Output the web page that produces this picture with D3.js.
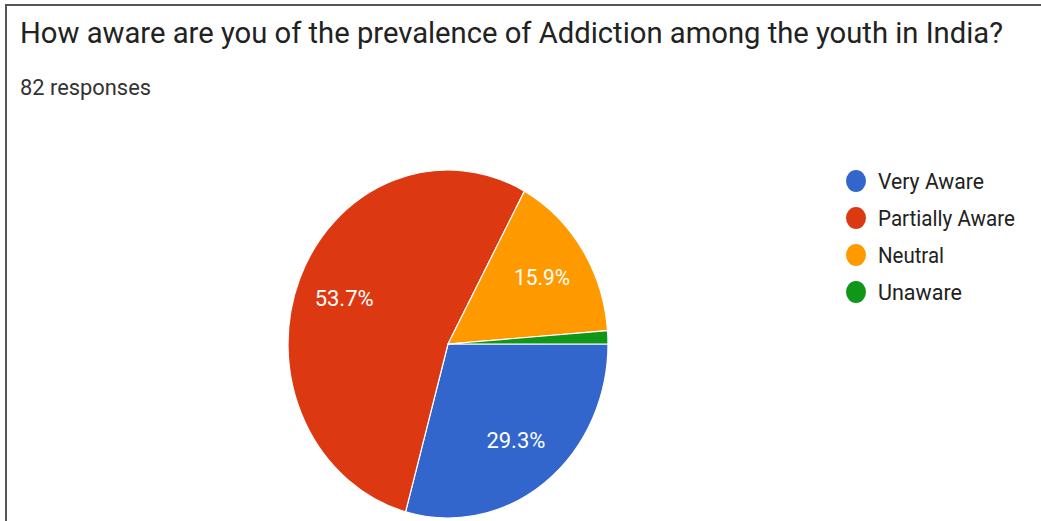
<!DOCTYPE html>
<html>
<head>
<meta charset="utf-8">
<script src="https://cdn.jsdelivr.net/npm/d3@7"></script>
<style>
  html, body { margin: 0; padding: 0; background: #fff; }
  svg { display: block; font-family: Roboto, "Noto Sans", Arial, sans-serif; }
</style>
</head>
<body>
<svg id="chart" width="1041" height="521"></svg>
<script>
const title = "How aware are you of the prevalence of Addiction among the youth in India?";
const subtitle = "82 responses";
const categories = ["Very Aware", "Partially Aware", "Neutral", "Unaware"];
const counts = [24, 44, 13, 1];
const percentLabels = ["29.3%", "53.7%", "15.9%", ""];
const colors = ["#3366cc", "#dc3912", "#ff9900", "#109618"];

const svg = d3.select("#chart");
const W = 1041, H = 521;
const sy = 1.0875; // vertical stretch seen in the reference

svg.append("rect").attr("x", 0).attr("y", 0).attr("width", W).attr("height", H).attr("fill", "#fff");

// frame (top and left edges visible)
svg.append("path")
  .attr("d", `M6,${H} L6,5 L${W},5`)
  .attr("fill", "none").attr("stroke", "#555").attr("stroke-width", 2);

svg.append("text")
  .attr("transform", `translate(20,43) scale(1,${sy})`)
  .attr("font-size", 27).attr("fill", "#222")
  .attr("textLength", 983).attr("lengthAdjust", "spacingAndGlyphs")
  .text(title);

svg.append("text")
  .attr("transform", `translate(20,95) scale(1,${sy})`)
  .attr("font-size", 19.5).attr("fill", "#333")
  .attr("textLength", 131).attr("lengthAdjust", "spacingAndGlyphs")
  .text(subtitle);

// pie
const cx = 448, cy = 344, R = 160;
const pie = d3.pie().sort(null).value(d => d.v)
  .startAngle(Math.PI / 2).endAngle(Math.PI / 2 + 2 * Math.PI);
const data = categories.map((c, i) => ({ c, v: counts[i], color: colors[i], label: percentLabels[i] }));
const arcs = pie(data);
const arc = d3.arc().innerRadius(0).outerRadius(R);
const labelArc = d3.arc().innerRadius(112).outerRadius(112);

const g = svg.append("g").attr("transform", `translate(${cx},${cy}) scale(1,${sy})`);
g.selectAll("path").data(arcs).join("path")
  .attr("d", arc)
  .attr("fill", d => d.data.color)
  .attr("stroke", "#fff").attr("stroke-width", 1.2)
  .attr("vector-effect", "non-scaling-stroke");

const labelWidths = { "29.3%": 59, "53.7%": 59, "15.9%": 56 };
svg.append("g").selectAll("text").data(arcs.filter(d => d.data.label)).join("text")
  .attr("transform", d => `translate(${cx + labelArc.centroid(d)[0]},${cy + labelArc.centroid(d)[1] * sy + 7.5}) scale(1,${sy})`)
  .attr("text-anchor", "middle")
  .attr("font-size", 20).attr("fill", "#fff")
  .attr("textLength", d => labelWidths[d.data.label]).attr("lengthAdjust", "spacingAndGlyphs")
  .text(d => d.data.label);

// legend
const legendY = d3.scalePoint().domain(categories).range([181, 292]);
const lg = svg.append("g");
const items = lg.selectAll("g").data(data).join("g")
  .attr("transform", d => `translate(856,${legendY(d.c)})`);
items.append("ellipse").attr("rx", 10).attr("ry", 11).attr("fill", d => d.color);
const legendWidths = [106, 137, 66, 84];
items.append("text")
  .attr("transform", `translate(22,7.5) scale(1,${sy})`)
  .attr("font-size", 20.5).attr("fill", "#222")
  .attr("textLength", (d, i) => legendWidths[i]).attr("lengthAdjust", "spacingAndGlyphs")
  .text(d => d.c);
</script>
</body>
</html>
